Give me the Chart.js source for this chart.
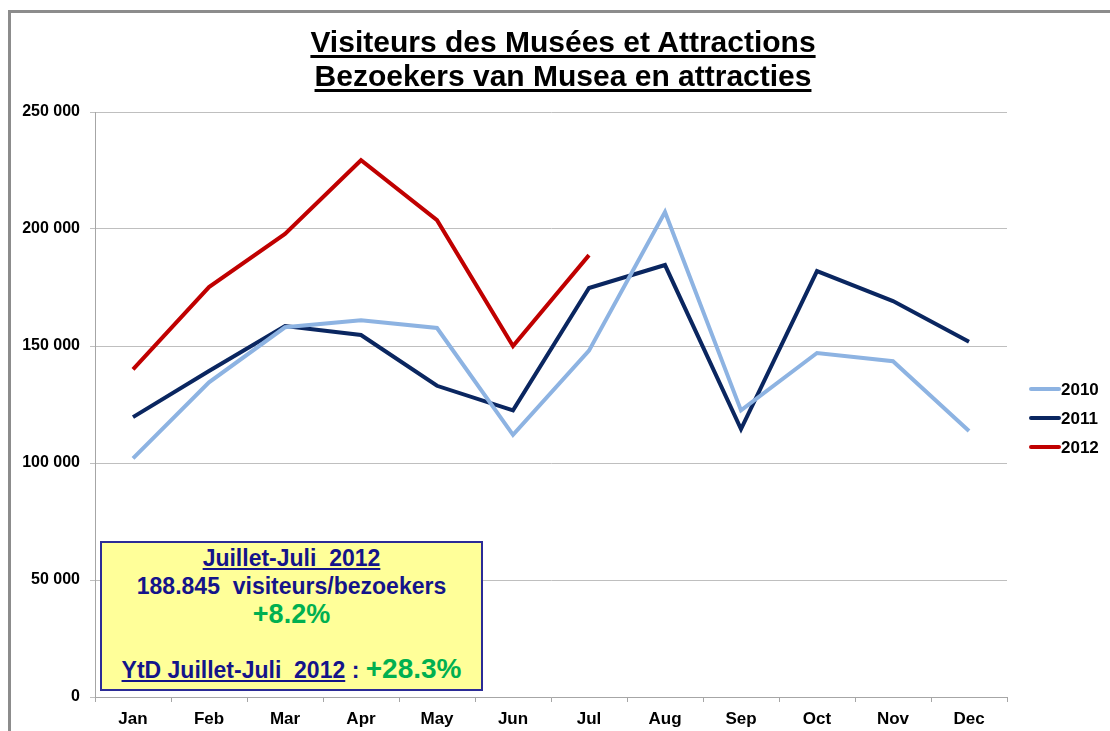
<!DOCTYPE html>
<html>
<head>
<meta charset="utf-8">
<script src="https://cdn.jsdelivr.net/npm/chart.js@4.4.0/dist/chart.umd.min.js"></script>
<style>
  body { margin: 0; background: #fff; font-family: "Liberation Sans", Arial, sans-serif; }
  #wrap { position: relative; width: 1110px; height: 731px; overflow: hidden; }
  #frame { position: absolute; left: 8px; top: 10px; width: 1200px; height: 800px;
           border-left: 3px solid #8c8c8c; border-top: 3px solid #8c8c8c; }
  canvas { position: absolute; left: 0; top: 0; }
  #title { position: absolute; left: 0; width: 1126px; top: 25px; text-align: center;
           font-weight: bold; font-size: 30px; line-height: 34px; color: #000; }
  #title span { text-decoration: underline; text-decoration-thickness: 3px; text-underline-offset: 3px; }
  #note { position: absolute; left: 100px; top: 541px; width: 379px; height: 146px;
          background: #ffff99; border: 2px solid #2b2b97; text-align: center;
          font-weight: bold; color: #14148a; }
  #note .l1 { margin-top: 1px; font-size: 23px; line-height: 28px; }
  #note .l2 { font-size: 23px; line-height: 28px; }
  #note .green { color: #00b050; }
  #note .u { text-decoration: underline; }
  #note .l3 { font-size: 27px; line-height: 28px; }
  #note .l4 { margin-top: 26px; font-size: 23px; line-height: 30px; }
  #note .l4 .green { font-size: 28px; }
</style>
</head>
<body>
<div id="wrap">
  <div id="frame"></div>
  <canvas id="museumChart" width="1110" height="731"></canvas>
  <div id="title"><span>Visiteurs des Musées et Attractions</span><br><span>Bezoekers van Musea en attracties</span></div>
  <div id="note">
    <div class="l1 u">Juillet-Juli&nbsp; 2012</div>
    <div class="l2">188.845&nbsp; visiteurs/bezoekers</div>
    <div class="l3 green">+8.2%</div>
    <div class="l4"><span class="u">YtD Juillet-Juli&nbsp; 2012</span> : <span class="green">+28.3%</span></div>
  </div>
</div>
<script>
const months = ['Jan', 'Feb', 'Mar', 'Apr', 'May', 'Jun', 'Jul', 'Aug', 'Sep', 'Oct', 'Nov', 'Dec'];
const visitors2010 = [102000, 134500, 158000, 161000, 157700, 112000, 148000, 207300, 122500, 147000, 143500, 113700];
const visitors2011 = [119600, 139300, 158500, 154700, 133000, 122500, 174800, 184600, 114500, 182000, 169200, 151800];
const visitors2012 = [140000, 175200, 197900, 229400, 203800, 150000, 188845];
const yTicks = [0, 50000, 100000, 150000, 200000, 250000];

function fmt(v) {
    return String(v).replace(/\B(?=(\d{3})+(?!\d))/g, ' ');
}

// legend drawn on the right, like the excel one
const sideLegend = {
    id: 'sideLegend',
    afterDraw(chart) {
        const ctx = chart.ctx;
        ctx.save();
        chart.data.datasets.forEach((ds, i) => {
            const y = 389 + i * 29;
            ctx.strokeStyle = ds.borderColor;
            ctx.lineWidth = 4;
            ctx.lineCap = 'round';
            ctx.beginPath();
            ctx.moveTo(1031, y);
            ctx.lineTo(1059, y);
            ctx.stroke();
            ctx.fillStyle = '#000';
            ctx.font = 'bold 17px "Liberation Sans", Arial';
            ctx.textBaseline = 'middle';
            ctx.fillText(ds.label, 1061, y + 1);
        });
        ctx.restore();
    }
};

const ctx = document.getElementById('museumChart').getContext('2d');
new Chart(ctx, {
    type: 'line',
    data: {
        labels: months,
        datasets: [
            { label: '2010', data: visitors2010, borderColor: '#8db3e2', borderWidth: 4, pointRadius: 0, tension: 0 },
            { label: '2011', data: visitors2011, borderColor: '#0a2660', borderWidth: 4, pointRadius: 0, tension: 0 },
            { label: '2012', data: visitors2012, borderColor: '#c00000', borderWidth: 4, pointRadius: 0, tension: 0 }
        ]
    },
    options: {
        responsive: false,
        animation: false,
        layout: { padding: { left: 0, top: 112, right: 103, bottom: 0 } },
        plugins: {
            legend: { display: false },
            tooltip: { enabled: false }
        },
        scales: {
            x: {
                offset: true,
                grid: { display: true, drawOnChartArea: false, offset: true, tickLength: 5, color: '#a6a6a6' },
                border: { color: '#a6a6a6' },
                ticks: { color: '#000', font: { family: '"Liberation Sans", Arial', size: 17, weight: 'bold' }, padding: 7, maxRotation: 0 },
                afterFit(scale) { scale.height = 34; }
            },
            y: {
                min: 0,
                max: 250000,
                afterBuildTicks(scale) { scale.ticks = yTicks.map(v => ({ value: v })); },
                grid: { color: '#bfbfbf', tickLength: 5 },
                border: { color: '#a6a6a6' },
                ticks: {
                    color: '#000',
                    font: { family: '"Liberation Sans", Arial', size: 16, weight: 'bold' },
                    padding: 10,
                    callback: v => fmt(v)
                },
                afterFit(scale) { scale.width = 95; }
            }
        }
    },
    plugins: [sideLegend]
});
</script>
</body>
</html>
